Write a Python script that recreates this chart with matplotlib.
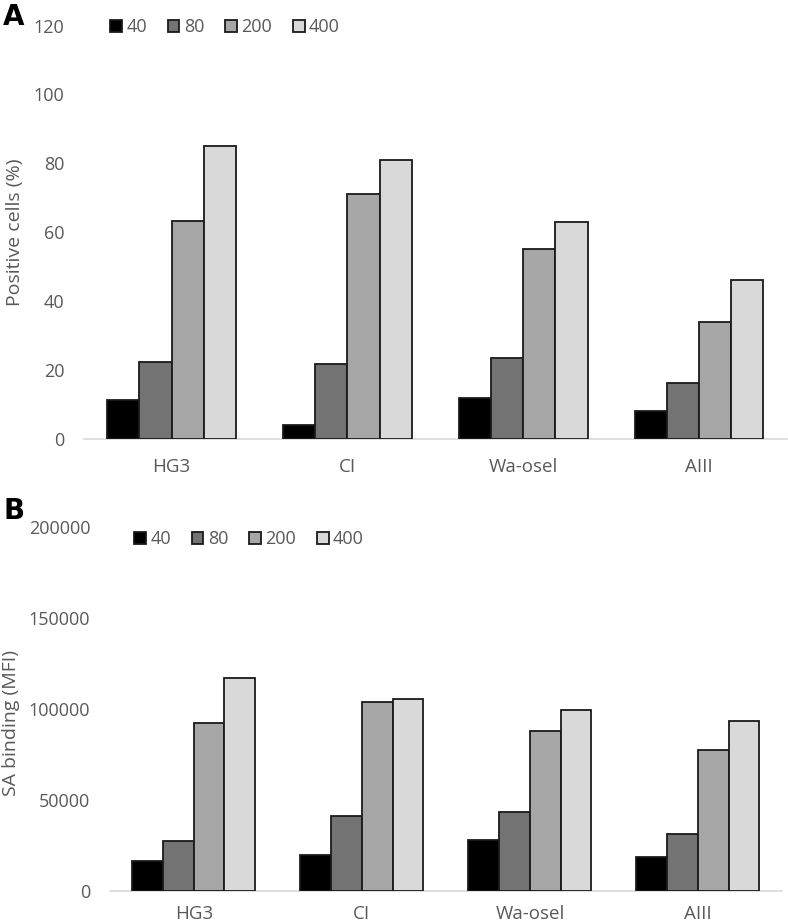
import numpy as np
import matplotlib.pyplot as plt

# --- data ---
STRAINS = ["HG3", "CI", "Wa-osel", "AIII"]
DOSES = ["40", "80", "200", "400"]

# panel A: positive cells (%)
pos_40 = [11.4, 4.1, 12.1, 8.2]
pos_80 = [22.5, 21.9, 23.6, 16.5]
pos_200 = [63.3, 71.1, 55.3, 34.1]
pos_400 = [85.1, 81.0, 63.1, 46.3]

# panel B: SA binding (MFI)
mfi_40 = [16500, 19900, 27900, 18700]
mfi_80 = [27500, 41200, 43400, 31300]
mfi_200 = [92300, 103700, 88100, 77500]
mfi_400 = [116900, 105700, 99500, 93600]

COLORS = ["#000000", "#737373", "#a6a6a6", "#d9d9d9"]
TEXT = "#595959"
FONT = "Open Sans"

plt.rcParams['font.family'] = [FONT, 'DejaVu Sans']


def draw_panel(ax, series, ymax, ystep, ylabel, xpad):
    x = np.arange(len(STRAINS))
    w = 0.183
    for i, (vals, col) in enumerate(zip(series, COLORS)):
        ax.bar(x + (i - 1.5) * w, vals, w, color=col, edgecolor="#1a1a1a",
               linewidth=1.3, label=DOSES[i], zorder=3)
    ax.set_xlim(-0.5, len(STRAINS) - 0.5)
    ax.set_ylim(0, ymax)
    ax.set_yticks(np.arange(0, ymax + 1, ystep))
    ax.set_xticks(x)
    ax.set_xticklabels(STRAINS)
    for s in ["top", "right", "left"]:
        ax.spines[s].set_visible(False)
    ax.spines["bottom"].set_color("#d9d9d9")
    ax.spines["bottom"].set_linewidth(1.2)
    ax.tick_params(axis="y", length=0, pad=14, labelsize=13, labelcolor=TEXT)
    ax.tick_params(axis="x", length=0, pad=xpad, labelsize=13.5, labelcolor=TEXT)
    ax.set_ylabel(ylabel, fontsize=14, color=TEXT)


fig = plt.figure(figsize=(7.88, 9.24), dpi=100)

axA = fig.add_axes([0.1063, 0.5244, 0.8924, 0.448])
draw_panel(axA, [pos_40, pos_80, pos_200, pos_400], 120, 20, "Positive cells (%)", 13)

axB = fig.add_axes([0.1392, 0.0357, 0.8532, 0.394])
draw_panel(axB, [mfi_40, mfi_80, mfi_200, mfi_400], 200000, 50000, "SA binding (MFI)", 10)

# y-label positions (right edge of rotated text) in figure pixels
for ax, xpix, yfrac in [(axA, 24, 0.5), (axB, 20, 0.462)]:
    bb = ax.get_position()
    ax.yaxis.set_label_coords((xpix / 788 - bb.x0) / bb.width, yfrac)

# legends
for ax, xpix, ypix in [(axA, 110, 27), (axB, 134, 539)]:
    ax.legend(loc="center left", bbox_to_anchor=(xpix / 788, 1 - ypix / 924),
              bbox_transform=fig.transFigure, ncol=4, frameon=False,
              fontsize=13, labelcolor=TEXT, handlelength=0.65, handleheight=0.65,
              handletextpad=0.25, columnspacing=1.15, borderpad=0, borderaxespad=0)

# panel letters
fig.text(3 / 788, 1 - 3 / 924, "A", fontsize=20, fontweight="bold",
         family="DejaVu Sans", va="top", ha="left")
fig.text(3 / 788, 1 - 497 / 924, "B", fontsize=20, fontweight="bold",
         family="DejaVu Sans", va="top", ha="left")

fig.savefig("out.png", dpi=100)
